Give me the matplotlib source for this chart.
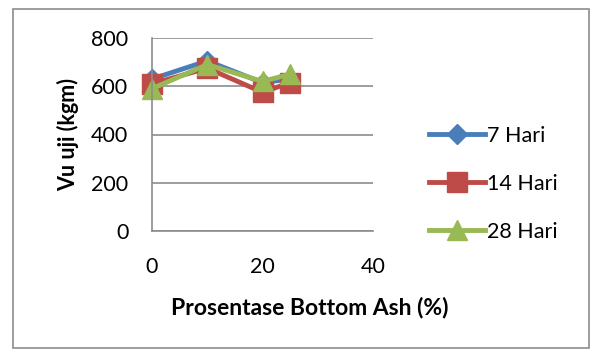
import matplotlib
matplotlib.use("Agg")
import matplotlib.pyplot as plt
from matplotlib.patches import Rectangle

plt.rcParams['font.family'] = ['Lato', 'DejaVu Sans']

x_vals = [0, 10, 20, 25]
hari7 = [630, 705, 615, 630]
hari14 = [610, 675, 575, 615]
hari28 = [590, 690, 620, 650]
series_names = ["7 Hari", "14 Hari", "28 Hari"]
colors = ["#4A7EBB", "#BE4B48", "#98B954"]
markers = ["D", "s", "^"]
msizes = [10, 14, 15]
x_ticks = [0, 20, 40]
y_ticks = [0, 200, 400, 600, 800]

W, H = 592, 350
fig = plt.figure(figsize=(W / 100, H / 100), dpi=100)
fig.patches.append(Rectangle((13 / W, 2 / H), 576 / W, (H - 9 - 2) / H,
                             transform=fig.transFigure, fill=False,
                             edgecolor="#8c8c8c", linewidth=1.2))

L, R, T, B = 152, 373, 38, 231
ax = fig.add_axes([L / W, 1 - B / H, (R - L) / W, (B - T) / H])
ax.set_xlim(0, 40)
ax.set_ylim(0, 800)
ax.set_xticks(x_ticks)
ax.set_yticks(y_ticks)
ax.grid(axis='y', color="#8c8c8c", linewidth=1.2)
ax.set_axisbelow(True)
for s in ["top", "right"]:
    ax.spines[s].set_visible(False)
for s in ["left", "bottom"]:
    ax.spines[s].set_color("#8c8c8c")
    ax.spines[s].set_linewidth(1.2)
ax.tick_params(length=0, labelsize=15.5)
ax.tick_params(axis='y', pad=17)
ax.tick_params(axis='x', pad=19)

for ys, name, c, m, ms in zip([hari7, hari14, hari28], series_names, colors, markers, msizes):
    ax.plot(x_vals, ys, color=c, marker=m, markersize=ms, linewidth=3.5,
            label=name, clip_on=False)

ax.set_ylabel("Vu uji (kgm)", fontsize=15.5, fontweight="bold", va="center")
ax.yaxis.set_label_coords((68 - L) / (R - L), 0.5)
ax.set_xlabel("Prosentase Bottom Ash (%)", fontsize=16.5, fontweight="bold", va="center")
ax.xaxis.set_label_coords((310 - L) / (R - L), -(307 - B) / (B - T))

leg = fig.legend(loc="upper left", bbox_to_anchor=(420 / W, 1 - 117 / H),
                 frameon=False, fontsize=15.5, handlelength=2.6, labelspacing=1.3,
                 handletextpad=0.1, borderaxespad=0)

fig.savefig("out.png", dpi=100)
